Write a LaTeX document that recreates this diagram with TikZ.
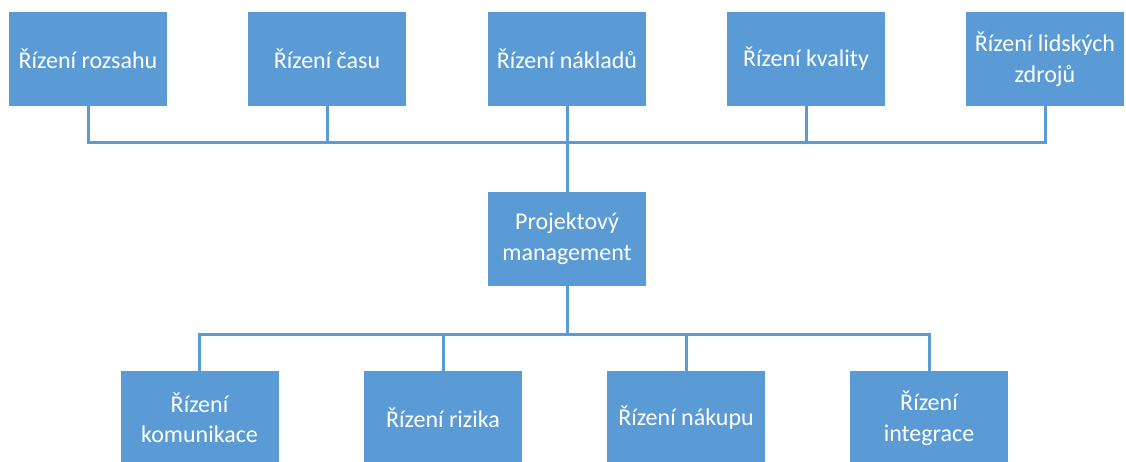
\documentclass[tikz,border=0pt]{standalone}
\usepackage{fontspec}
\setmainfont{Carlito}
\definecolor{boxblue}{HTML}{5B9BD5}
\begin{document}
\begin{tikzpicture}[x=1pt,y=-1pt,
  box/.style={fill=boxblue, draw=none, minimum width=158pt, minimum height=94pt, inner sep=0pt,
    align=center, text=white, font=\fontsize{24}{30.5}\selectfont},
  conn/.style={draw=boxblue, line width=3pt, line cap=rect}]
\useasboundingbox (0,0) rectangle (1126,461);
\node[box] (t1) at (88,59) {Řízení rozsahu};
\node[box] (t2) at (327,59) {Řízení času};
\node[box] (t3) at (567,59) {Řízení nákladů};
\node[box] (t4) at (806,59) {Řízení kvality};
\node[box] (t5) at (1045,59) {Řízení lidských\\zdrojů};
\node[box] (pm) at (567,238.5) {Projektový\\management};
\node[box] (b1) at (199.5,418) {Řízení\\komunikace};
\node[box] (b2) at (443,418) {Řízení rizika};
\node[box] (b3) at (686,418) {Řízení nákupu};
\node[box] (b4) at (929,418) {Řízení\\integrace};
\coordinate (hb) at (567,142);
\coordinate (lb) at (567,334);
\draw[conn] (t1.south |- hb) -- (t5.south |- hb);
\foreach \n in {t1,t2,t4,t5} \draw[conn] (\n.south) -- (\n.south |- hb);
\draw[conn] (t3.south) -- (pm.north);
\draw[conn] (pm.south) -- (lb);
\draw[conn] (b1.north |- lb) -- (b4.north |- lb);
\foreach \n in {b1,b2,b3,b4} \draw[conn] (\n.north |- lb) -- (\n.north);
\end{tikzpicture}
\end{document}
